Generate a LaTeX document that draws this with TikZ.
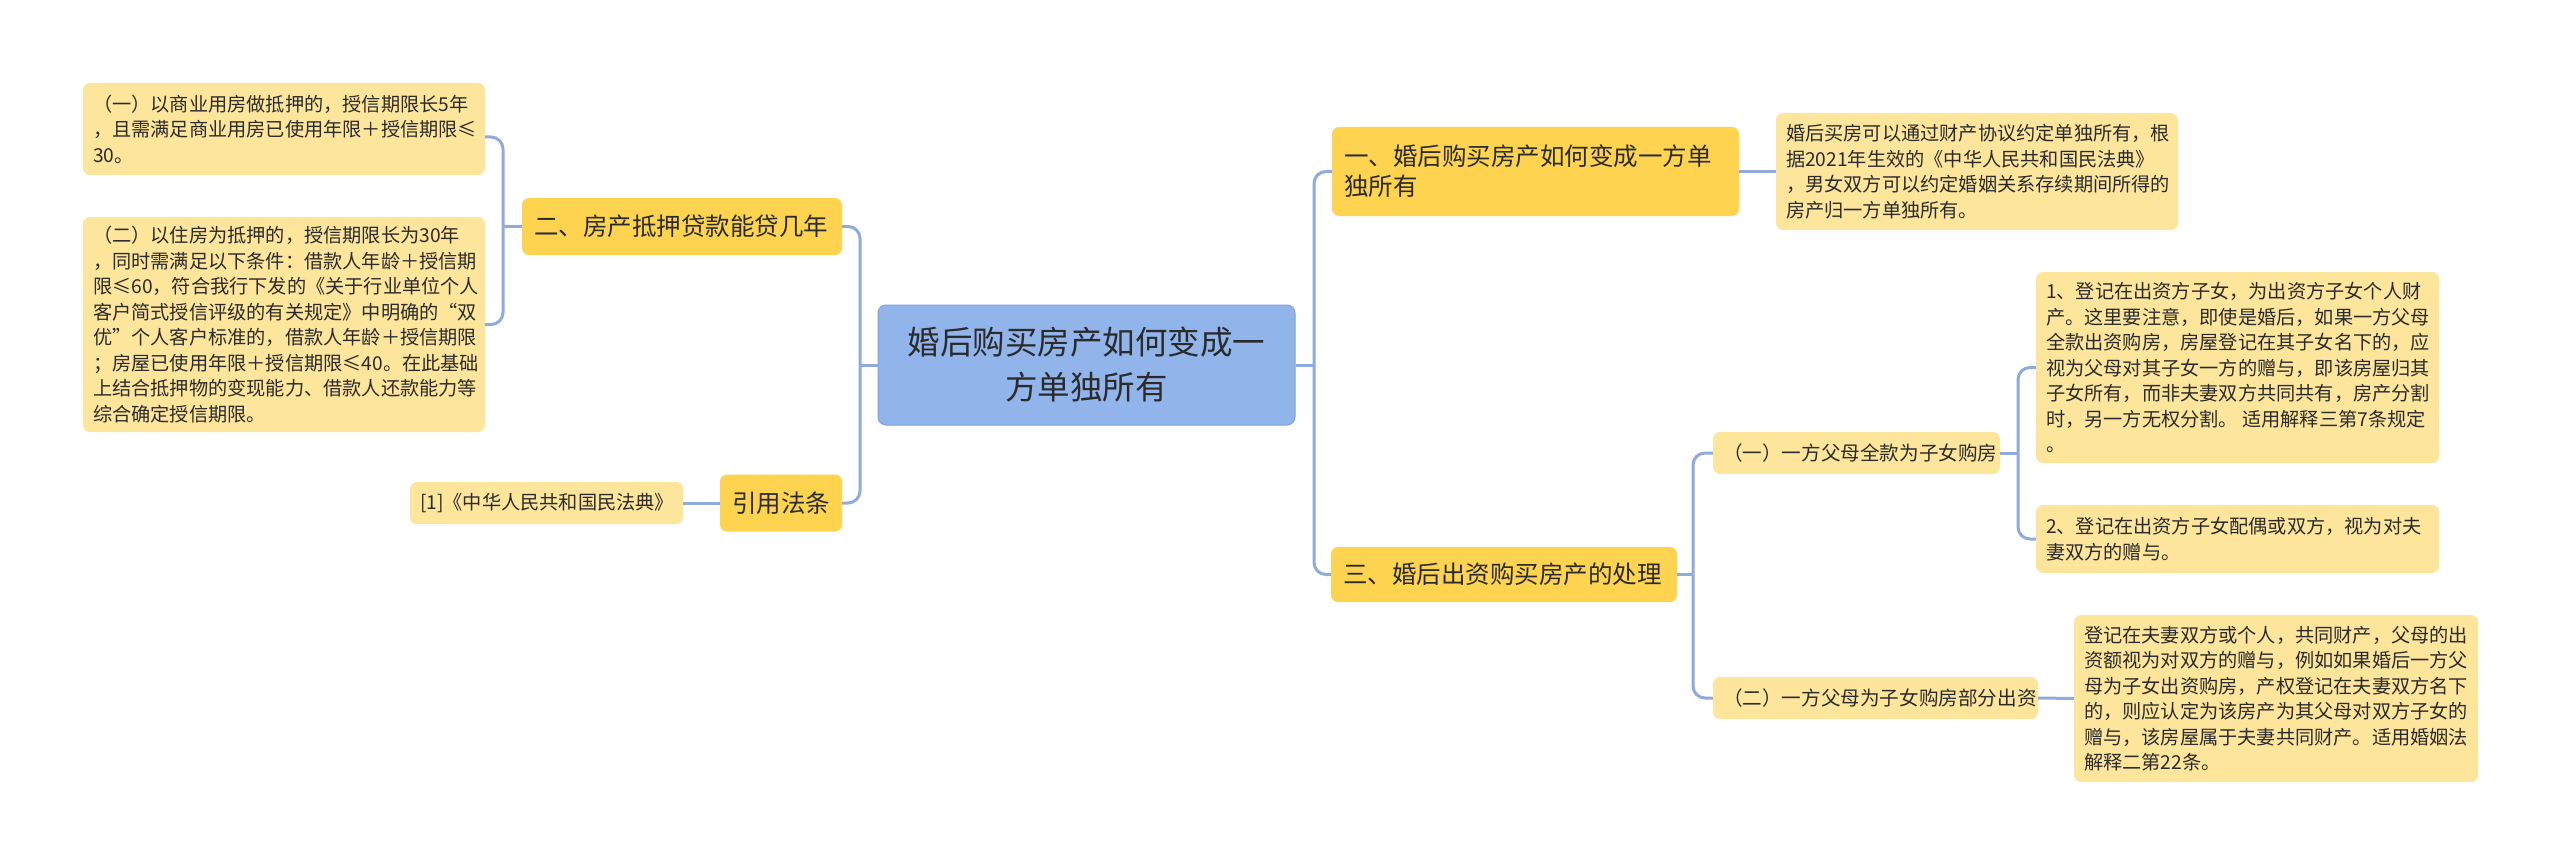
\documentclass[tikz,border=0pt]{standalone}
\usepackage{fontspec}
\newfontfamily\cjk{Noto Sans CJK SC}
\definecolor{rootF}{HTML}{91B4EB}
\definecolor{rootD}{HTML}{7FA2DC}
\definecolor{lvlF}{HTML}{FDD34F}
\definecolor{leafF}{HTML}{FDE59C}
\definecolor{connC}{HTML}{8FAADC}
\definecolor{txt}{HTML}{2B2B2B}
\tikzset{
  box/.style={rounded corners=7pt, inner xsep=10pt, inner ysep=0pt, align=flush left, text=txt},
  leaf/.style={box, fill=leafF, font={\cjk\fontsize{19.2pt}{25.5pt}\selectfont}},
  midbox/.style={box, fill=leafF, font={\cjk\fontsize{19.6pt}{25pt}\selectfont}},
  lvl/.style={box, fill=lvlF, inner xsep=12pt, font={\cjk\fontsize{24.5pt}{30pt}\selectfont}},
  rootbox/.style={rounded corners=8pt, fill=rootF, draw=rootD, line width=1pt, align=center, text=txt, inner sep=0pt, font={\cjk\fontsize{32.5pt}{45pt}\selectfont}},
  conn/.style={draw=connC, line width=3pt},
  rconn/.style={conn, rounded corners=12pt}
}
\begin{document}
\begin{tikzpicture}[x=1pt,y=-1pt]
\useasboundingbox (0,0) rectangle (2560,864);
% root
\node[rootbox, text width=417pt, minimum height=120pt] (root) at (1086.5,365) {婚后购买房产如何变成一\\方单独所有};
% left branch
\node[lvl, text width=296pt, minimum height=57pt] (l2) at (682,226.5) {二、房产抵押贷款能贷几年};
\node[lvl, text width=98pt, minimum height=57pt, align=center] (law) at (781,503) {引用法条};
\node[leaf, text width=382pt, minimum height=92pt] (lf1) at (284,129) {（一）以商业用房做抵押的，授信期限长5年\\，且需满足商业用房已使用年限＋授信期限≤\\30。};
\node[leaf, text width=382pt, minimum height=215pt] (lf2) at (284,324.5) {（二）以住房为抵押的，授信期限长为30年\\，同时需满足以下条件：借款人年龄＋授信期\\限≤60，符合我行下发的《关于行业单位个人\\客户简式授信评级的有关规定》中明确的“双\\优”个人客户标准的，借款人年龄＋授信期限\\；房屋已使用年限＋授信期限≤40。在此基础\\上结合抵押物的变现能力、借款人还款能力等\\综合确定授信期限。};
\node[leaf, text width=253pt, minimum height=42pt] (lawlf) at (546.5,503) {[1]《中华人民共和国民法典》};
% right branch
\node[lvl, text width=383pt, minimum height=89pt] (r1) at (1535.5,171.5) {一、婚后购买房产如何变成一方单\\独所有};
\node[leaf, text width=382pt, minimum height=117pt] (r1lf) at (1977,171.5) {婚后买房可以通过财产协议约定单独所有，根\\据2021年生效的《中华人民共和国民法典》\\，男女双方可以约定婚姻关系存续期间所得的\\房产归一方单独所有。};
\node[lvl, text width=322pt, minimum height=55pt] (r3) at (1504,574.5) {三、婚后出资购买房产的处理};
\node[midbox, text width=267pt, minimum height=42pt] (m1) at (1856.5,453) {（一）一方父母全款为子女购房};
\node[midbox, text width=305pt, minimum height=42pt] (m2) at (1875.5,698) {（二）一方父母为子女购房部分出资};
\node[leaf, text width=383pt, minimum height=191pt] (b1) at (2237.5,367.5) {1、登记在出资方子女，为出资方子女个人财\\产。这里要注意，即使是婚后，如果一方父母\\全款出资购房，房屋登记在其子女名下的，应\\视为父母对其子女一方的赠与，即该房屋归其\\子女所有，而非夫妻双方共同共有，房产分割\\时，另一方无权分割。 适用解释三第7条规定\\。};
\node[leaf, text width=383pt, minimum height=68pt] (b2) at (2237.5,539) {2、登记在出资方子女配偶或双方，视为对夫\\妻双方的赠与。};
\node[leaf, text width=384pt, minimum height=167pt] (b3) at (2276,698.5) {登记在夫妻双方或个人，共同财产，父母的出\\资额视为对双方的赠与，例如如果婚后一方父\\母为子女出资购房，产权登记在夫妻双方名下\\的，则应认定为该房产为其父母对双方子女的\\赠与，该房屋属于夫妻共同财产。适用婚姻法\\解释二第22条。};
% junctions
\coordinate (jL) at (860,365);
\coordinate (jL2) at (503,226.5);
\coordinate (jR) at (1314,365);
\coordinate (j3) at (1693,574.5);
\coordinate (jm1) at (2018,453);
% connectors
\draw[conn] (root.west) -- (jL);
\draw[rconn] (jL) |- (l2.east);
\draw[rconn] (jL) |- (law.east);
\draw[conn] (l2.west) -- (jL2);
\draw[rconn] (jL2) |- ([yshift=-8pt]lf1.east);
\draw[rconn] (jL2) |- (lf2.east);
\draw[conn] (law.west) -- (lawlf.east);
\draw[conn] (root.east) -- (jR);
\draw[rconn] (jR) |- (r1.west);
\draw[rconn] (jR) |- (r3.west);
\draw[conn] (r1.east) -- (r1lf.west);
\draw[conn] (r3.east) -- (j3);
\draw[rconn] (j3) |- (m1.west);
\draw[rconn] (j3) |- (m2.west);
\draw[conn] (m1.east) -- (jm1);
\draw[rconn] (jm1) |- (b1.west);
\draw[rconn] (jm1) |- (b2.west);
\draw[conn] (m2.east) -- (b3.west);
\end{tikzpicture}
\end{document}
